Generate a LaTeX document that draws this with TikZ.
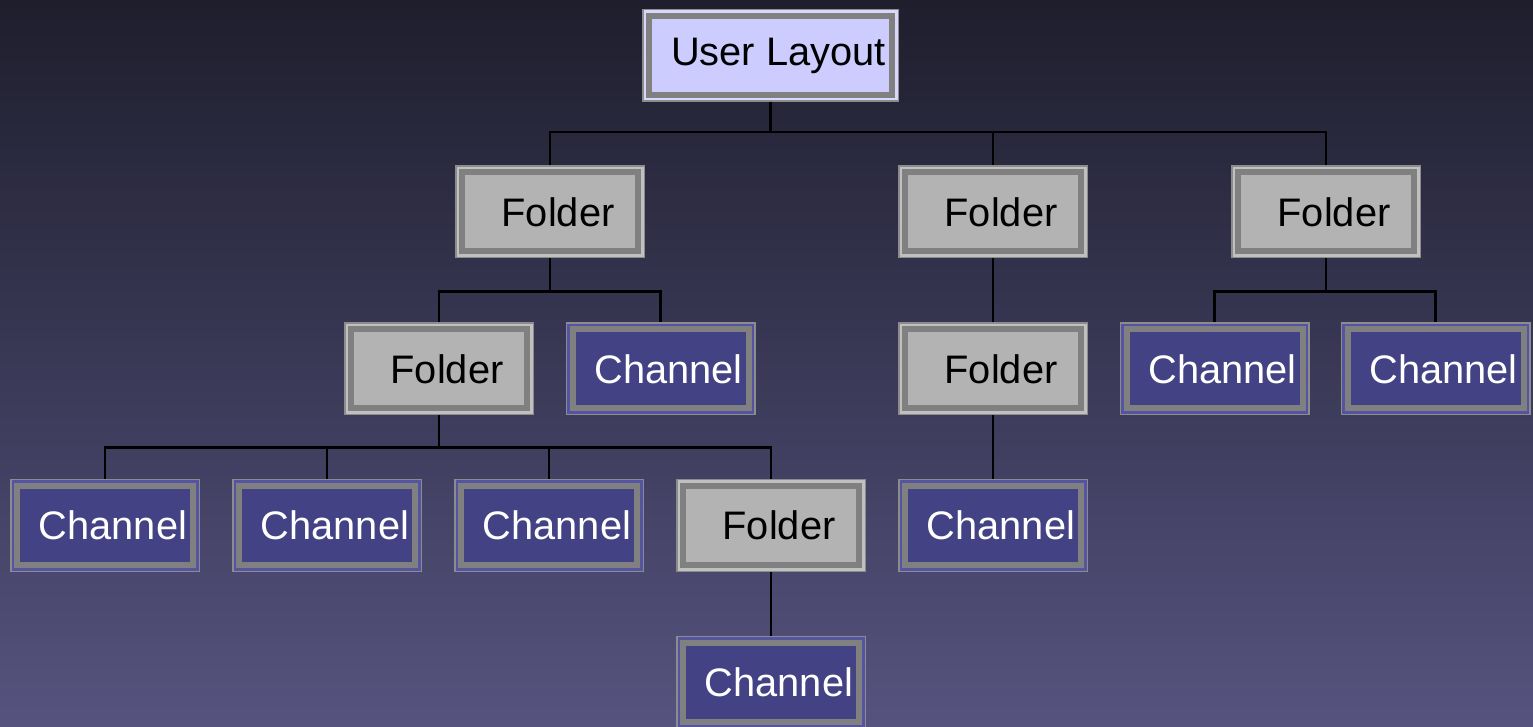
\documentclass[tikz,border=0pt]{standalone}
\usepackage{fontspec}
\setmainfont{Liberation Sans}
\definecolor{bgtop}{HTML}{1E1E2D}
\definecolor{bgbot}{HTML}{56537F}
\definecolor{framegray}{HTML}{808080}
\definecolor{rimgray}{HTML}{8C8C8C}
\definecolor{fldfill}{HTML}{B3B3B3}
\definecolor{fldrim}{HTML}{C0C0C0}
\definecolor{chfill}{HTML}{424285}
\definecolor{chrim}{HTML}{5454A2}
\definecolor{ulfill}{HTML}{CCCCFF}
\definecolor{ulrim}{HTML}{D8D8FF}

\tikzset{
  tbox/.style={draw=framegray, line width=3pt, rectangle,
    minimum width=88pt, minimum height=39.5pt, inner sep=0pt, outer sep=3.5pt,
    font=\fontsize{19.9}{23}\selectfont,
    execute at begin node=\hspace*{8pt},
    preaction={draw=rimgray, line width=7pt},
    preaction={draw=#1, line width=5.5pt}},
  folder/.style={tbox=fldrim, fill=fldfill, text=black},
  channel/.style={tbox=chrim, fill=chfill, text=white},
  top/.style={tbox=ulrim, fill=ulfill, text=black, minimum width=121.5pt},
  link/.style={draw=black, line width=1.1pt}
}

\begin{document}
\begin{tikzpicture}[x=0.5pt, y=0.5pt]
  \useasboundingbox (0,0) rectangle (1533,-727);
  % backdrop
  \shade[top color=bgtop, bottom color=bgbot] (0,0) rectangle (1533,-727);

  % boxes
  \node[top] (layout) at (770.5,-55.5) {User Layout};

  \node[folder] (fa) at (550,-212) {Folder};
  \node[folder] (fb) at (993,-212) {Folder};
  \node[folder] (fc) at (1326,-212) {Folder};

  \node[folder]  (faa) at (439,-369)    {Folder};
  \node[channel] (cab) at (660.5,-369)  {Channel};
  \node[folder]  (fba) at (993,-369)    {Folder};
  \node[channel] (cca) at (1214.5,-369) {Channel};
  \node[channel] (ccb) at (1435.5,-369) {Channel};

  \node[channel] (c1)   at (105,-525.5) {Channel};
  \node[channel] (c2)   at (327,-525.5) {Channel};
  \node[channel] (c3)   at (549,-525.5) {Channel};
  \node[folder]  (faad) at (771,-525.5) {Folder};
  \node[channel] (cba)  at (993,-525.5) {Channel};

  \node[channel] (cd) at (771,-682) {Channel};

  % links
  \foreach \c in {fa,fb,fc}
    \draw[link] (layout.south) -- ++(0,-30) -| (\c.north);
  \foreach \c in {faa,cab}
    \draw[link] (fa.south) -- ++(0,-33) -| (\c.north);
  \draw[link] (fb.south) -- (fba.north);
  \foreach \c in {cca,ccb}
    \draw[link] (fc.south) -- ++(0,-33) -| (\c.north);
  \foreach \c in {c1,c2,c3,faad}
    \draw[link] (faa.south) -- ++(0,-32) -| (\c.north);
  \draw[link] (fba.south) -- (cba.north);
  \draw[link] (faad.south) -- (cd.north);
\end{tikzpicture}
\end{document}
